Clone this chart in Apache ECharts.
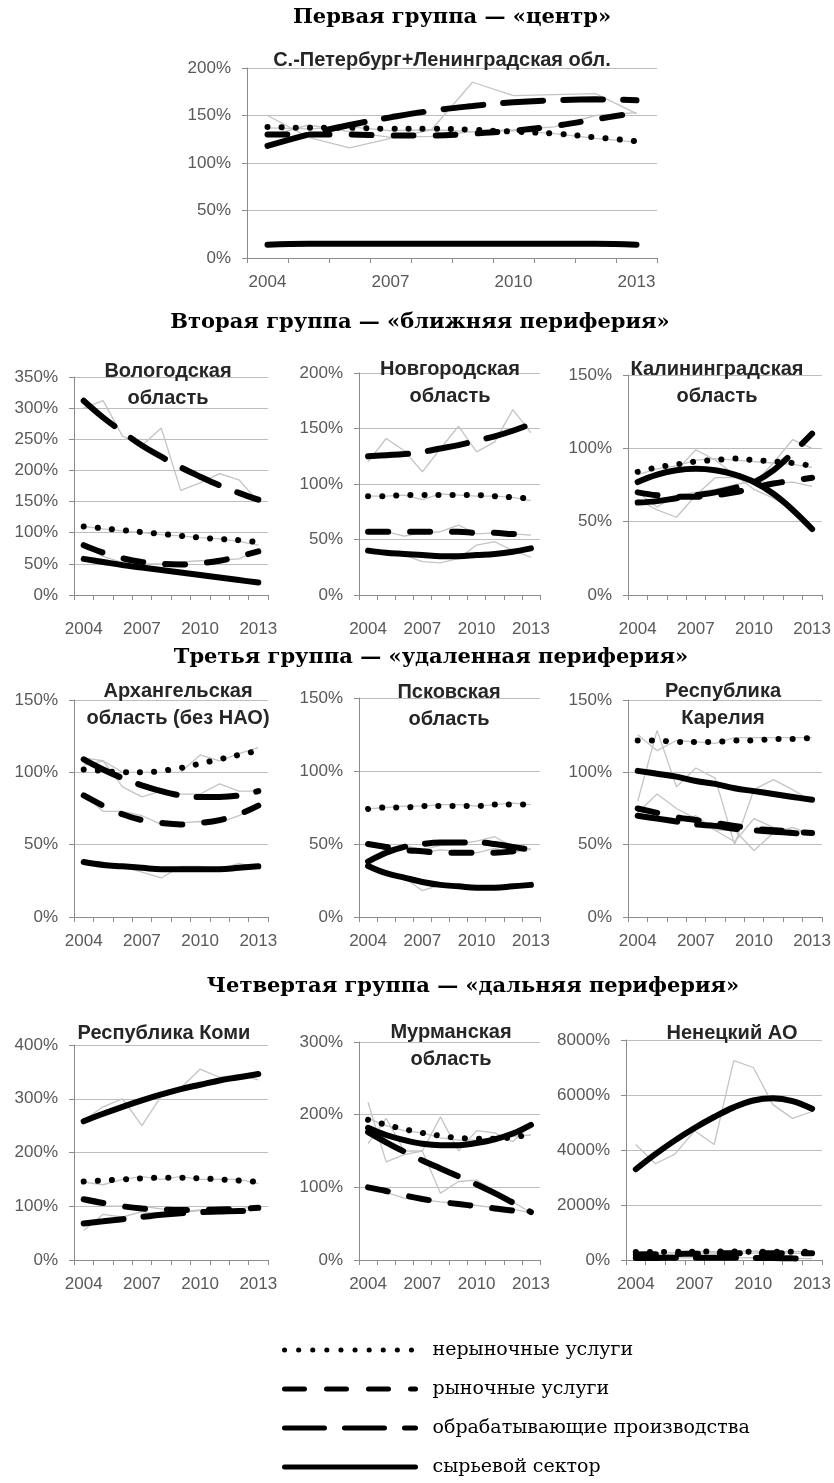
<!DOCTYPE html>
<html>
<head>
<meta charset="utf-8">
<script src="https://cdn.jsdelivr.net/npm/echarts@6/dist/echarts.min.js"></script>
<style>
  html, body { margin: 0; padding: 0; background: #fff; }
  #chart { width: 834px; height: 1483px; }
</style>
</head>
<body>
<div id="chart"></div>
<script>
const years = ['2004', '2005', '2006', '2007', '2008', '2009', '2010', '2011', '2012', '2013'];
const sectors = ['нерыночные услуги', 'рыночные услуги', 'обрабатывающие производства', 'сырьевой сектор'];

// С.-Петербург+Ленинградская обл.
const spbNonMarket = [137, 136, 138, 134, 135, 133, 134, 131, 126, 122];
const spbMarket = [128, 140, 133, 127, 128, 133, 135, 138, 150, 153];
const spbManuf = [150, 127, 116, 126, 135, 185, 171, 172, 173, 152];
const spbRaw = [14, 14, 15, 15, 15, 16, 15, 15, 14, 13];
const spbNonMarketTrend = [138, 137, 137, 136, 136, 135, 133, 131, 127, 123];
const spbMarketTrend = [130, 130, 130, 129, 129, 131, 134, 139, 146, 153];
const spbManufTrend = [118, 130, 140, 148, 155, 160, 164, 166, 167, 166];
const spbRawTrend = [14, 15, 15, 15, 15, 15, 15, 15, 15, 14];

// Вологодская область
const volNonMarket = [110, 106, 103, 100, 97, 95, 92, 90, 86, 80];
const volMarket = [80, 62, 52, 50, 50, 53, 55, 56, 58, 72];
const volManuf = [300, 312, 255, 240, 268, 168, 180, 195, 185, 150];
const volRaw = [58, 52, 47, 44, 40, 36, 32, 28, 24, 20];
const volNonMarketTrend = [110, 107, 104, 101, 98, 95, 92, 90, 88, 85];
const volMarketTrend = [80, 68, 59, 53, 50, 49, 51, 55, 62, 70];
const volManufTrend = [312, 285, 262, 240, 222, 205, 190, 176, 164, 153];
const volRawTrend = [58, 53, 48, 44, 40, 36, 32, 28, 24, 20];

// Новгородская область
const novNonMarket = [89, 89, 90, 86, 91, 90, 89, 89, 88, 85];
const novMarket = [56, 57, 53, 56, 57, 63, 55, 56, 55, 54];
const novManuf = [120, 141, 130, 111, 132, 152, 129, 138, 167, 146];
const novRaw = [42, 38, 36, 30, 29, 33, 45, 48, 40, 34];
const novNonMarketTrend = [89, 89, 90, 90, 90, 90, 90, 89, 88, 87];
const novMarketTrend = [57, 57, 57, 57, 57, 57, 56, 56, 55, 55];
const novManufTrend = [125, 126, 127, 129, 132, 135, 139, 143, 148, 154];
const novRawTrend = [40, 38, 37, 36, 35, 35, 36, 37, 39, 42];

// Калининградская область
const kalNonMarket = [82, 86, 88, 92, 93, 92, 91, 90, 89, 87];
const kalMarket = [70, 60, 68, 70, 72, 75, 78, 76, 77, 74];
const kalManuf = [65, 58, 53, 68, 80, 80, 76, 90, 106, 100];
const kalRaw = [78, 80, 85, 99, 92, 82, 72, 66, 58, 45];
const kalNonMarketTrend = [84, 87, 89, 91, 92, 93, 92, 91, 90, 88];
const kalMarketTrend = [70, 68, 67, 67, 68, 70, 73, 76, 78, 80];
const kalManufTrend = [63, 64, 66, 68, 70, 73, 77, 85, 97, 110];
const kalRawTrend = [77, 82, 85, 86, 85, 82, 77, 69, 58, 45];

// Архангельская область (без НАО)
const arhNonMarket = [105, 108, 100, 100, 100, 100, 112, 108, 113, 117];
const arhMarket = [85, 73, 73, 70, 64, 65, 66, 65, 70, 77];
const arhManuf = [110, 108, 90, 83, 87, 85, 85, 92, 87, 87];
const arhRaw = [38, 38, 35, 31, 27, 35, 35, 33, 37, 34];
const arhNonMarketTrend = [102, 101, 100, 100, 101, 103, 106, 109, 112, 115];
const arhMarketTrend = [84, 77, 71, 67, 65, 64, 65, 67, 71, 77];
const arhManufTrend = [109, 102, 96, 91, 87, 84, 83, 83, 84, 87];
const arhRawTrend = [38, 36, 35, 34, 33, 33, 33, 33, 34, 35];

// Псковская область
const pskNonMarket = [74, 75, 76, 76, 77, 77, 76, 77, 78, 77];
const pskMarket = [50, 46, 48, 44, 46, 45, 44, 47, 44, 47];
const pskManuf = [38, 47, 49, 46, 49, 50, 52, 55, 48, 46];
const pskRaw = [36, 31, 27, 18, 22, 22, 20, 21, 20, 22];
const pskNonMarketTrend = [74, 75, 75, 76, 76, 76, 76, 77, 77, 77];
const pskMarketTrend = [50, 48, 46, 45, 44, 44, 44, 44, 45, 47];
const pskManufTrend = [38, 44, 48, 50, 51, 51, 51, 50, 48, 46];
const pskRawTrend = [35, 30, 27, 24, 22, 21, 20, 20, 21, 22];

// Республика Карелия
const karNonMarket = [126, 115, 122, 121, 120, 124, 124, 124, 124, 124];
const karMarket = [72, 85, 75, 68, 60, 52, 68, 62, 60, 58];
const karManuf = [70, 70, 65, 70, 60, 60, 46, 58, 62, 57];
const karRaw = [80, 129, 90, 103, 96, 50, 88, 95, 88, 80];
const karNonMarketTrend = [122, 122, 121, 121, 121, 122, 122, 123, 123, 124];
const karMarketTrend = [75, 72, 69, 67, 65, 63, 61, 60, 59, 58];
const karManufTrend = [70, 68, 66, 64, 63, 61, 60, 59, 58, 57];
const karRawTrend = [101, 99, 97, 94, 92, 89, 87, 85, 83, 81];

// Республика Коми
const komiNonMarket = [145, 140, 150, 155, 150, 155, 150, 150, 150, 142];
const komiMarket = [110, 100, 100, 100, 95, 90, 93, 90, 95, 100];
const komiManuf = [55, 85, 80, 90, 85, 88, 92, 95, 90, 95];
const komiRaw = [260, 285, 300, 250, 305, 320, 355, 340, 345, 335];
const komiNonMarketTrend = [146, 148, 150, 152, 153, 153, 152, 150, 148, 145];
const komiMarketTrend = [113, 106, 100, 96, 94, 93, 93, 94, 95, 97];
const komiManufTrend = [68, 72, 76, 80, 84, 87, 89, 90, 91, 91];
const komiRawTrend = [258, 272, 285, 297, 308, 318, 326, 334, 340, 346];

// Мурманская область
const murNonMarket = [195, 185, 178, 175, 168, 165, 165, 168, 170, 172];
const murMarket = [100, 93, 85, 83, 80, 78, 75, 72, 70, 65];
const murManuf = [160, 195, 150, 150, 92, 108, 110, 95, 80, 65];
const murRaw = [217, 135, 145, 150, 197, 150, 178, 175, 163, 185];
const murNonMarketTrend = [193, 186, 180, 175, 171, 168, 167, 167, 169, 173];
const murMarketTrend = [100, 95, 89, 84, 80, 77, 74, 71, 68, 64];
const murManufTrend = [176, 162, 149, 137, 126, 115, 104, 92, 79, 66];
const murRawTrend = [182, 172, 165, 160, 158, 158, 161, 166, 174, 186];

// Ненецкий АО
const naoNonMarket = [300, 250, 280, 320, 300, 330, 320, 300, 310, 300];
const naoMarket = [200, 180, 220, 250, 260, 240, 250, 260, 240, 250];
const naoManuf = [80, 60, 70, 90, 100, 80, 90, 70, 60, 50];
const naoRaw = [4200, 3500, 3850, 4700, 4200, 7250, 7000, 5650, 5150, 5400];
const naoNonMarketTrend = [290, 290, 300, 300, 310, 310, 300, 300, 300, 300];
const naoMarketTrend = [200, 210, 220, 230, 240, 250, 250, 250, 250, 250];
const naoManufTrend = [70, 75, 80, 80, 80, 80, 75, 70, 60, 50];
const naoRawTrend = [3300, 3850, 4350, 4800, 5200, 5550, 5800, 5880, 5780, 5500];

const groupTitles = [
  { text: 'Первая группа — «центр»', x: 452, y: 18 },
  { text: 'Вторая группа — «ближняя периферия»', x: 420, y: 323 },
  { text: 'Третья группа — «удаленная периферия»', x: 431, y: 658 },
  { text: 'Четвертая группа — «дальняя периферия»', x: 473, y: 987 }
];

const panels = [
  { title: 'С.-Петербург+Ленинградская обл.', tx: 442, ty: 60, max: 200, step: 50, lm: 16,
    box: [247, 68, 410, 190],
    actual: [spbNonMarket, spbMarket, spbManuf, spbRaw],
    trend: [spbNonMarketTrend, spbMarketTrend, spbManufTrend, spbRawTrend] },
  { title: 'Вологодская\nобласть', tx: 168, ty: 385, max: 350, step: 50, lm: 26,
    box: [74, 377, 194, 218],
    actual: [volNonMarket, volMarket, volManuf, volRaw],
    trend: [volNonMarketTrend, volMarketTrend, volManufTrend, volRawTrend] },
  { title: 'Новгородская\nобласть', tx: 450, ty: 383, max: 200, step: 50, lm: 26,
    box: [359, 373, 181, 222],
    actual: [novNonMarket, novMarket, novManuf, novRaw],
    trend: [novNonMarketTrend, novMarketTrend, novManufTrend, novRawTrend] },
  { title: 'Калининградская\nобласть', tx: 717, ty: 383, max: 150, step: 50, lm: 26,
    box: [628, 375, 194, 220],
    actual: [kalNonMarket, kalMarket, kalManuf, kalRaw],
    trend: [kalNonMarketTrend, kalMarketTrend, kalManufTrend, kalRawTrend] },
  { title: 'Архангельская\nобласть (без НАО)', tx: 178, ty: 705, max: 150, step: 50, lm: 16,
    box: [74, 700, 194, 217],
    actual: [arhNonMarket, arhMarket, arhManuf, arhRaw],
    trend: [arhNonMarketTrend, arhMarketTrend, arhManufTrend, arhRawTrend] },
  { title: 'Псковская\nобласть', tx: 449, ty: 706, max: 150, step: 50, lm: 16,
    box: [359, 698, 181, 219],
    actual: [pskNonMarket, pskMarket, pskManuf, pskRaw],
    trend: [pskNonMarketTrend, pskMarketTrend, pskManufTrend, pskRawTrend] },
  { title: 'Республика\nКарелия', tx: 723, ty: 705, max: 150, step: 50, lm: 16,
    box: [628, 700, 194, 217],
    actual: [karNonMarket, karMarket, karManuf, karRaw],
    trend: [karNonMarketTrend, karMarketTrend, karManufTrend, karRawTrend] },
  { title: 'Республика Коми', tx: 164, ty: 1033, max: 400, step: 100, lm: 16,
    box: [74, 1045, 194, 215],
    actual: [komiNonMarket, komiMarket, komiManuf, komiRaw],
    trend: [komiNonMarketTrend, komiMarketTrend, komiManufTrend, komiRawTrend] },
  { title: 'Мурманская\nобласть', tx: 451, ty: 1046, max: 300, step: 100, lm: 16,
    box: [359, 1042, 181, 218],
    actual: [murNonMarket, murMarket, murManuf, murRaw],
    trend: [murNonMarketTrend, murMarketTrend, murManufTrend, murRawTrend] },
  { title: 'Ненецкий АО', tx: 732, ty: 1033, max: 8000, step: 2000, lm: 16,
    box: [626, 1040, 196, 220],
    actual: [naoNonMarket, naoMarket, naoManuf, naoRaw],
    trend: [naoNonMarketTrend, naoMarketTrend, naoManufTrend, naoRawTrend] }
];

// стиль линий тренда: точки, штрих, длинный штрих, сплошная
const trendDash = [[0.1, 14], [20, 22], [40, 20], 'solid'];
const axisGrey = '#8c8c8c';

const title = [];
const grid = [];
const xAxis = [];
const yAxis = [];
const series = [];

groupTitles.forEach(g => {
  title.push({
    text: g.text, left: g.x, top: g.y, padding: 0,
    textAlign: 'center', textVerticalAlign: 'middle',
    textStyle: { fontFamily: 'DejaVu Serif', fontWeight: 'bold', fontSize: 21, color: '#000' }
  });
});

panels.forEach((p, i) => {
  title.push({
    text: p.title, left: p.tx, top: p.ty, padding: 0,
    textAlign: 'center', textVerticalAlign: 'middle',
    textStyle: { fontFamily: 'Liberation Sans', fontWeight: 'bold', fontSize: 20, lineHeight: 27, color: '#262626' }
  });
  grid.push({ left: p.box[0], top: p.box[1], width: p.box[2], height: p.box[3], containLabel: false });
  xAxis.push({
    type: 'category', gridIndex: i, data: years, boundaryGap: true,
    axisLine: { lineStyle: { color: axisGrey, width: 1 } },
    axisTick: { show: true, interval: 0, length: 5, lineStyle: { color: axisGrey } },
    axisLabel: { interval: 2, margin: p.lm, fontFamily: 'Liberation Sans', fontSize: 17, color: '#595959' },
    splitLine: { show: false }
  });
  yAxis.push({
    type: 'value', gridIndex: i, min: 0, max: p.max, interval: p.step,
    axisLine: { show: true, lineStyle: { color: axisGrey, width: 1 } },
    axisTick: { show: true, length: 5, lineStyle: { color: axisGrey } },
    axisLabel: { formatter: v => v + '%', margin: 16, fontFamily: 'Liberation Sans', fontSize: 17, color: '#595959' },
    splitLine: { lineStyle: { color: '#bdbdbd', width: 1 } }
  });
  p.actual.forEach((arr, k) => {
    series.push({
      type: 'line', name: 'факт ' + sectors[k], xAxisIndex: i, yAxisIndex: i, data: arr,
      symbol: 'none', silent: true, z: 2,
      lineStyle: { color: '#c4c4c4', width: 1.3 }
    });
  });
  p.trend.forEach((arr, k) => {
    series.push({
      type: 'line', name: sectors[k], xAxisIndex: i, yAxisIndex: i, data: arr,
      symbol: 'none', smooth: 0.4, silent: true, z: 3,
      lineStyle: { color: '#000', width: 6, type: trendDash[k], cap: 'round' }
    });
  });
});

const chart = echarts.init(document.getElementById('chart'), null, { renderer: 'canvas' });
chart.setOption({
  animation: false,
  backgroundColor: '#fff',
  title: title,
  grid: grid,
  xAxis: xAxis,
  yAxis: yAxis,
  legend: {
    data: sectors, orient: 'vertical', left: 282, top: 1340, height: 142, padding: 0,
    itemWidth: 131, itemHeight: 12, itemGap: 19, selectedMode: false,
    itemStyle: { color: 'rgba(0,0,0,0)', borderWidth: 0, opacity: 0 },
    lineStyle: { width: 5 },
    textStyle: { fontFamily: 'DejaVu Serif', fontSize: 19, lineHeight: 20, color: '#000', padding: [0, 0, 0, 12] }
  },
  series: series
});
</script>
</body>
</html>
